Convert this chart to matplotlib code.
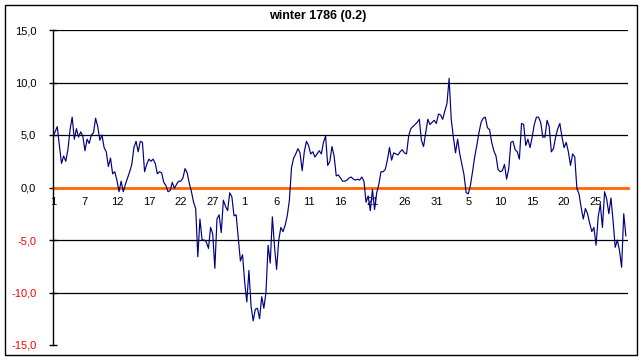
import matplotlib
matplotlib.use("Agg")
import matplotlib.pyplot as plt
from matplotlib.patches import Rectangle
from matplotlib.ticker import FuncFormatter

plt.rcParams['font.family'] = ['Liberation Sans', 'DejaVu Sans']

title = "winter 1786 (0.2)"

# temperature readings, three per day, Dec 1 .. Feb 28
temps = [
    4.9, 5.3, 5.8, 4.0, 2.3, 3.0, 2.5, 3.6, 5.5, 6.7, 4.6, 5.6, 4.8, 5.3, 4.9,
    3.5, 4.6, 4.2, 5.0, 5.2, 6.6, 5.8, 4.5, 5.0, 3.8, 3.4, 2.0, 2.8, 1.3, 1.5,
    0.7, -0.4, 0.6, -0.4, 0.3, 0.9, 1.5, 2.2, 3.8, 4.4, 3.4, 4.4, 4.3, 1.5, 2.2,
    2.7, 2.5, 2.7, 2.3, 1.3, 1.5, 1.4, 0.5, 0.2, -0.4, -0.3, 0.5, -0.1, 0.3, 0.6,
    0.6, 0.9, 1.8, 1.4, 0.4, -0.4, -1.4, -2.0, -6.6, -3.0, -5.0, -5.0, -5.2, -5.8, -3.8,
    -4.4, -7.7, -3.0, -2.6, -4.3, -1.2, -1.8, -2.2, -0.5, -0.9, -2.7, -2.6, -4.8, -7.0, -6.4,
    -9.0, -10.9, -7.9, -11.3, -12.7, -11.6, -11.5, -12.5, -10.4, -11.5, -10.0, -5.5, -7.2, -2.8, -5.6,
    -7.8, -5.0, -3.8, -4.2, -3.6, -2.7, -1.2, 1.9, 2.8, 3.2, 3.7, 3.3, 1.6, 3.4, 4.4,
    4.0, 3.2, 3.4, 2.9, 3.2, 3.5, 3.2, 4.3, 4.9, 2.1, 2.5, 3.9, 3.0, 1.1, 1.2,
    0.9, 0.6, 0.6, 0.7, 0.9, 1.0, 0.8, 0.7, 0.8, 0.7, 1.0, 0.6, -1.4, -0.8, -2.2,
    -0.2, -2.1, -0.5, 0.3, 1.5, 1.5, 1.7, 2.6, 3.8, 2.6, 3.3, 3.2, 3.1, 3.4, 3.6,
    3.3, 3.2, 4.9, 5.6, 5.8, 6.0, 6.2, 6.5, 4.5, 3.9, 5.2, 6.5, 6.0, 6.2, 6.4,
    6.1, 7.0, 6.9, 6.5, 7.3, 8.0, 10.4, 6.5, 4.8, 3.3, 4.6, 3.2, 2.2, 1.2, -0.5,
    -0.6, 0.2, 1.5, 2.9, 4.0, 5.2, 6.2, 6.6, 6.7, 5.7, 5.5, 4.3, 3.5, 3.0, 1.7,
    1.5, 1.6, 2.2, 0.8, 1.8, 4.3, 4.4, 3.6, 3.4, 2.7, 6.1, 6.0, 4.0, 4.6, 3.8,
    4.8, 6.0, 6.7, 6.7, 6.2, 4.8, 4.8, 6.4, 5.8, 3.4, 3.7, 4.8, 5.6, 6.1, 4.8,
    3.8, 4.3, 3.4, 2.1, 3.2, 2.9, -0.1, -0.6, -1.9, -3.0, -2.0, -2.5, -3.4, -4.2, -3.8,
    -5.5, -2.8, -1.6, -3.8, -0.4, -1.1, -2.5, -1.0, -3.2, -5.7, -5.0, -6.0, -7.6, -2.5, -4.6,
]

day_labels = ["1", "7", "12", "17", "22", "27", "1", "6", "11", "16", "21",
              "26", "31", "5", "10", "15", "20", "25"]
label_step = 15
y_ticks = [-15, -10, -5, 0, 5, 10, 15]

fig = plt.figure(figsize=(6.43, 3.60), dpi=100)
ax = fig.add_axes([53 / 643, 1 - 345 / 360, 575 / 643, 315 / 360])

# black gridlines, the zero line is the orange category axis
for v in y_ticks:
    if v not in (0, y_ticks[0]):
        ax.axhline(v, color='black', lw=0.9, zorder=1)

ax.plot(range(len(temps)), temps, color='#000080', lw=0.85, zorder=3)

ax.set_xlim(0, len(temps))
ax.set_ylim(y_ticks[0], y_ticks[-1])

ax.spines['top'].set_visible(False)
ax.spines['right'].set_visible(False)
ax.spines['left'].set_linewidth(1.0)
ax.spines['bottom'].set_position(('data', 0))
ax.spines['bottom'].set_color('#FF6600')
ax.spines['bottom'].set_linewidth(2.0)
ax.spines['bottom'].set_zorder(2)

ax.set_xticks([i * label_step for i in range(len(day_labels))])
ax.set_xticklabels(day_labels, fontsize=8)
ax.tick_params(axis='x', length=0, pad=7)

ax.set_yticks(y_ticks)
ax.yaxis.set_major_formatter(FuncFormatter(lambda v, p: f"{v:.1f}".replace('.', ',')))
ax.tick_params(axis='y', direction='inout', length=6, width=1, labelsize=8, pad=9)
for lab, v in zip(ax.get_yticklabels(), y_ticks):
    lab.set_color('red' if v < 0 else 'black')

fig.text(318 / 643, 1 - 16 / 360, title, ha='center', va='center',
         fontsize=9, fontweight='bold')

fig.patches.append(Rectangle((5 / 643, 5 / 360), 632 / 643, 350 / 360,
                             transform=fig.transFigure, fill=False,
                             edgecolor='black', lw=1.0))

fig.savefig('out.png', dpi=100)
